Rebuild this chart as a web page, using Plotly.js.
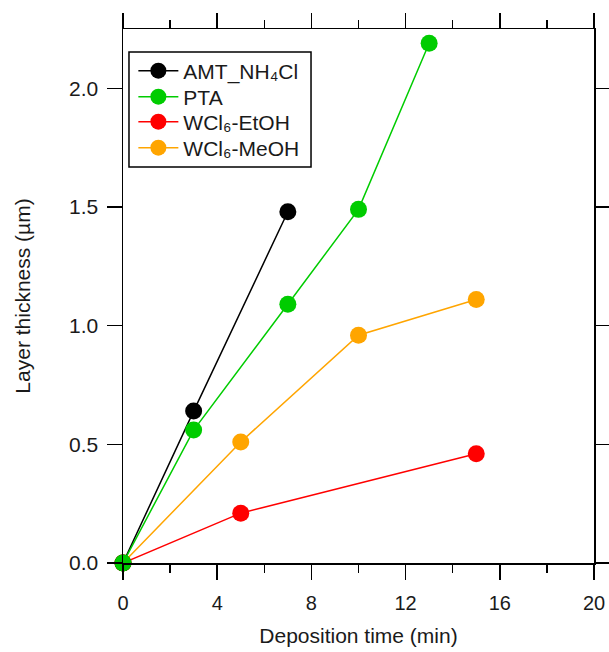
<!DOCTYPE html>
<html>
<head>
<meta charset="utf-8">
<script src="https://cdn.plot.ly/plotly-3.0.1.min.js"></script>
<style>html,body{margin:0;padding:0;background:#fff;}#chart{width:609px;height:652px;}</style>
</head>
<body>
<div id="chart"></div>
<script>
// Data
const amtTime = [0, 3, 7];
const amtThickness = [0, 0.64, 1.48];
const ptaTime = [0, 3, 7, 10, 13];
const ptaThickness = [0, 0.56, 1.09, 1.49, 2.19];
const etohTime = [0, 5, 15];
const etohThickness = [0, 0.21, 0.46];
const meohTime = [0, 5, 10, 15];
const meohThickness = [0, 0.51, 0.96, 1.11];
const seriesNames = ['AMT_NH₄Cl', 'PTA', 'WCl₆-EtOH', 'WCl₆-MeOH'];
const xTicks = [0, 4, 8, 12, 16, 20];
const yTicks = [0, 0.5, 1.0, 1.5, 2.0];
const yTickText = ['0.0', '0.5', '1.0', '1.5', '2.0'];

function series(x, y, name, color, legendId) {
  return {
    x: x, y: y, name: name, type: 'scatter', mode: 'lines+markers',
    line: {color: color, width: 1.5},
    marker: {color: color, size: 17},
    cliponaxis: false,
    legend: legendId
  };
}

const data = [
  series(etohTime, etohThickness, seriesNames[2], '#ff0000', 'legend3'),
  series(meohTime, meohThickness, seriesNames[3], '#ffa500', 'legend4'),
  series(amtTime, amtThickness, seriesNames[0], '#000000', 'legend'),
  series(ptaTime, ptaThickness, seriesNames[1], '#00cc00', 'legend2')
];

const fam = '"Liberation Sans", Arial, sans-serif';
const txt = '#1a1a1a';

function legendAt(yc) {
  return {
    x: 0.022, y: yc, xanchor: 'left', yanchor: 'middle',
    bgcolor: 'rgba(0,0,0,0)', borderwidth: 0,
    font: {family: fam, size: 21, color: txt},
    itemwidth: 40
  };
}

const layout = {
  width: 609, height: 652,
  margin: {l: 123, r: 15, t: 29, b: 89},
  paper_bgcolor: '#fff', plot_bgcolor: '#fff',
  font: {family: fam, size: 20, color: txt},
  showlegend: true,
  legend: legendAt(0.9213),
  legend2: legendAt(0.8727),
  legend3: legendAt(0.8258),
  legend4: legendAt(0.7772),
  shapes: [{
    type: 'rect', xref: 'paper', yref: 'paper',
    x0: 0.0127, x1: 0.3992, y0: 0.7416, y1: 0.9569,
    line: {color: '#000', width: 1.5}, fillcolor: '#fff', layer: 'above'
  }],
  xaxis: {
    range: [0, 20], tickvals: xTicks, ticktext: xTicks.map(String),
    showgrid: false, zeroline: false,
    showline: true, linecolor: '#000', linewidth: 1.5, mirror: 'ticks',
    ticks: 'outside', ticklen: 15, tickwidth: 1.5, tickcolor: '#000',
    tickfont: {family: fam, size: 20, color: txt},
    ticklabelstandoff: 6,
    minor: {dtick: 2, tick0: 0, ticks: 'outside', ticklen: 8, tickwidth: 1.5, tickcolor: '#000', showgrid: false},
    title: {text: 'Deposition time (min)', font: {family: fam, size: 21, color: txt}, standoff: 16}
  },
  yaxis: {
    range: [0, 2.25], tickvals: yTicks, ticktext: yTickText,
    showgrid: false, zeroline: false,
    showline: true, linecolor: '#000', linewidth: 1.5, mirror: 'ticks',
    ticks: 'outside', ticklen: 15, tickwidth: 1.5, tickcolor: '#000',
    tickfont: {family: fam, size: 21, color: txt},
    ticklabelstandoff: 4,
    title: {text: 'Layer thickness (µm)', font: {family: fam, size: 21, color: txt}, standoff: 32}
  }
};

Plotly.newPlot('chart', data, layout, {displayModeBar: false, staticPlot: true});
</script>
</body>
</html>
